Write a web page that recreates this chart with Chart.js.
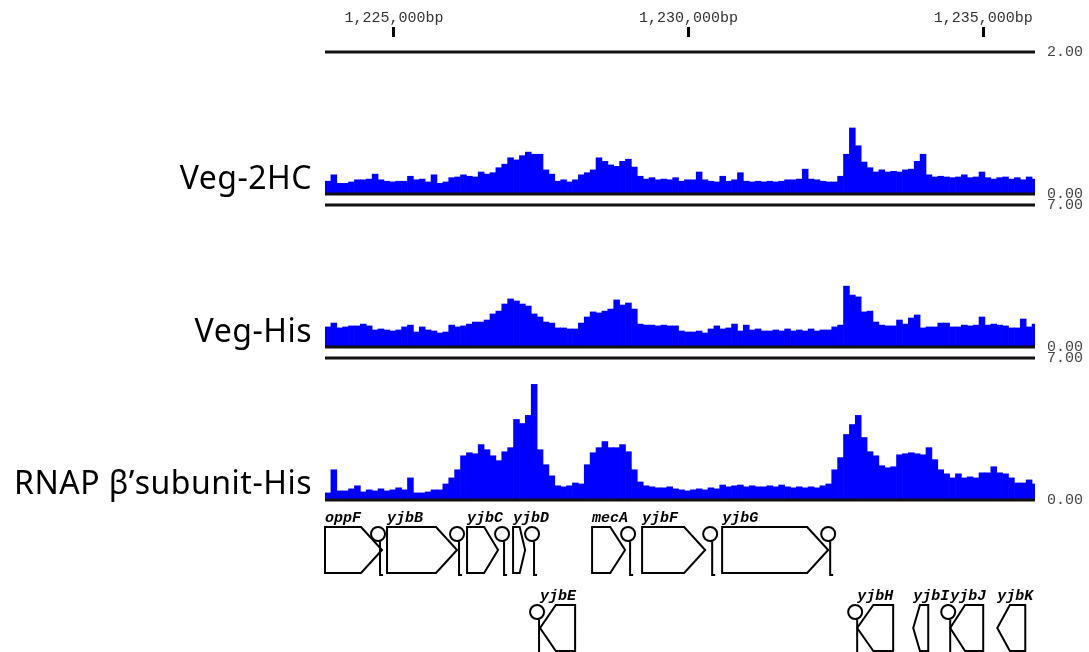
<!DOCTYPE html>
<html>
<head>
<meta charset="utf-8">
<script src="https://cdn.jsdelivr.net/npm/chart.js@4.4.1/dist/chart.umd.min.js"></script>
<style>
  body { margin:0; background:#fff; width:1089px; height:652px; overflow:hidden; position:relative; }
  .box { position:absolute; left:0; width:1089px; }
  .lab { position:absolute; right:777px; font-family:'Comic Sans MS','Noto Sans',sans-serif; font-size:32px; line-height:32px; letter-spacing:0.5px; color:#000; white-space:nowrap; }
</style>
</head>
<body>
<div class="box" style="top:0;height:52px"><canvas id="ruler"></canvas></div>
<div class="box" style="top:38px;height:170px"><canvas id="t1"></canvas></div>
<div class="box" style="top:191px;height:170px"><canvas id="t2"></canvas></div>
<div class="box" style="top:344px;height:170px"><canvas id="t3"></canvas></div>
<div class="box" style="top:500px;height:152px"><canvas id="genes"></canvas></div>
<div class="lab" style="top:161px">Veg-2HC</div>
<div class="lab" style="top:314px">Veg-His</div>
<div class="lab" style="top:466px">RNAP β’subunit-His</div>
<script>
// view window (bp) and 100 bp bins
var viewMin = 1223830, viewMax = 1235880;
var binStart = 1223830, binSize = 100;
var rulerTicks = [1225000, 1230000, 1235000];

// read-depth per 100 bp bin
var veg2hc = [
  0.18,0.27,0.15,0.15,0.17,0.20,0.20,0.21,0.28,0.20,
  0.18,0.17,0.18,0.18,0.25,0.20,0.21,0.17,0.27,0.15,
  0.17,0.23,0.24,0.27,0.25,0.24,0.31,0.28,0.30,0.37,
  0.42,0.51,0.48,0.54,0.59,0.56,0.56,0.34,0.28,0.18,
  0.20,0.17,0.20,0.27,0.30,0.34,0.51,0.46,0.41,0.39,
  0.46,0.49,0.38,0.25,0.21,0.23,0.20,0.21,0.20,0.23,
  0.18,0.20,0.20,0.31,0.20,0.18,0.17,0.25,0.18,0.20,
  0.30,0.18,0.17,0.18,0.17,0.18,0.17,0.18,0.20,0.20,
  0.21,0.35,0.21,0.20,0.18,0.17,0.17,0.25,0.56,0.93,
  0.68,0.45,0.37,0.31,0.34,0.31,0.32,0.31,0.34,0.35,
  0.46,0.56,0.27,0.24,0.25,0.24,0.23,0.24,0.27,0.23,
  0.24,0.31,0.23,0.21,0.23,0.24,0.21,0.23,0.20,0.24,
  0.21
];
var vegHis = [
  0.99,1.18,0.94,0.99,1.04,1.04,1.13,1.04,0.84,0.89,
  0.84,0.79,0.84,0.99,1.08,0.74,0.99,0.84,0.79,0.69,
  0.74,1.08,0.99,1.04,1.13,1.23,1.23,1.33,1.63,1.77,
  2.12,2.37,2.27,2.12,2.02,1.63,1.48,1.23,1.18,0.94,
  0.94,0.89,0.89,1.18,1.48,1.73,1.68,1.77,1.87,2.32,
  2.07,2.17,1.87,1.13,1.08,1.08,1.04,1.08,1.04,1.04,
  0.79,0.74,0.74,0.79,0.69,0.89,1.04,0.89,0.94,1.13,
  0.79,1.08,0.84,0.89,0.79,0.79,0.84,0.79,0.89,0.79,
  0.84,0.79,0.89,0.79,0.84,0.84,0.99,1.08,3.00,2.56,
  2.47,1.73,1.77,1.23,1.08,1.04,1.04,1.33,1.13,1.43,
  1.58,0.94,0.99,0.99,1.18,1.18,0.99,0.99,1.08,1.04,
  1.08,1.48,1.08,1.13,1.08,1.04,0.94,0.94,1.38,0.99,
  1.13
];
var rnap = [
  0.35,1.49,0.45,0.45,0.55,0.70,0.40,0.50,0.45,0.55,
  0.45,0.50,0.60,0.50,1.09,0.35,0.35,0.40,0.50,0.50,
  0.79,1.09,1.49,2.18,2.33,2.28,2.73,2.48,2.18,1.94,
  2.38,2.58,3.97,3.77,4.17,5.70,2.48,1.74,1.19,0.70,
  0.65,0.70,0.84,0.79,1.74,2.33,2.58,2.88,2.58,2.58,
  2.73,2.38,1.49,0.89,0.70,0.65,0.60,0.60,0.65,0.55,
  0.50,0.45,0.50,0.55,0.50,0.60,0.55,0.74,0.65,0.70,
  0.74,0.65,0.70,0.65,0.65,0.70,0.65,0.74,0.65,0.60,
  0.65,0.60,0.65,0.60,0.70,0.79,1.49,2.09,3.23,3.72,
  4.17,3.08,2.38,2.18,1.69,1.59,1.64,2.23,2.28,2.33,
  2.28,2.23,2.58,1.99,1.49,1.29,1.09,1.29,1.09,1.14,
  1.09,1.34,1.34,1.64,1.34,1.29,1.09,0.84,0.84,0.99,
  0.79
];

// gene annotation
var geneNames  = ['oppF','yjbB','yjbC','yjbD','mecA','yjbF','yjbG','yjbE','yjbH','yjbI','yjbJ','yjbK'];
var geneStart  = [1223830,1224883,1226241,1227022,1228363,1229212,1230570,1227480,1232862,1233813,1234441,1235240];
var geneEnd    = [1224798,1226071,1226767,1227226,1228923,1230282,1232370,1228075,1233473,1234068,1235001,1235715];
var geneStrand = [1,1,1,1,1,1,1,-1,-1,-1,-1,-1];
var termPos    = [1224730,1226071,1226835,1227344,1228974,1230367,1232370,1227429,1232828,1234407];
var termStrand = [1,1,1,1,1,1,1,-1,-1,-1];

var mono = "'Liberation Mono','Courier New',monospace";

var framePlugin = {
  id: 'frame',
  afterDatasetsDraw: function(chart) {
    var ctx = chart.ctx, a = chart.chartArea;
    ctx.save();
    ctx.strokeStyle = '#111';
    ctx.lineWidth = 3;
    ctx.beginPath();
    ctx.moveTo(a.left, a.top); ctx.lineTo(a.right, a.top);
    ctx.moveTo(a.left, a.bottom); ctx.lineTo(a.right, a.bottom);
    ctx.stroke();
    ctx.restore();
  }
};

function trackChart(id, values, maxVal) {
  return new Chart(document.getElementById(id), {
    type: 'bar',
    data: {
      datasets: [{
        data: values.map(function(v, i) { return {x: binStart + binSize * (i + 0.5), y: v}; }),
        backgroundColor: '#0000ff',
        borderWidth: 0,
        barPercentage: 1,
        categoryPercentage: 1
      }]
    },
    options: {
      responsive: true,
      maintainAspectRatio: false,
      animation: false,
      layout: {padding: {left: 325, top: 14, bottom: 14, right: 0}},
      plugins: {legend: {display: false}, tooltip: {enabled: false}},
      scales: {
        x: {type: 'linear', min: viewMin, max: viewMax, display: false, offset: false},
        y: {
          position: 'right', min: 0, max: maxVal,
          afterBuildTicks: function(s) { s.ticks = [{value: 0}, {value: maxVal}]; },
          afterFit: function(s) { s.width = 54; s.paddingTop = 0; s.paddingBottom = 0; },
          grid: {display: false, drawTicks: false},
          border: {display: false},
          ticks: {padding: 12, font: {family: mono, size: 15}, color: '#444',
                  callback: function(v) { return v.toFixed(2); }}
        }
      }
    },
    plugins: [framePlugin]
  });
}

// ruler
new Chart(document.getElementById('ruler'), {
  type: 'line',
  data: {datasets: []},
  options: {
    responsive: true, maintainAspectRatio: false, animation: false,
    layout: {padding: {left: 325, right: 54, top: 0, bottom: 0}},
    plugins: {legend: {display: false}, tooltip: {enabled: false}},
    scales: {
      x: {
        type: 'linear', position: 'top', min: viewMin, max: viewMax,
        afterBuildTicks: function(s) { s.ticks = rulerTicks.map(function(v) { return {value: v}; }); },
        afterFit: function(s) { s.height = 37; s.paddingLeft = 0; s.paddingRight = 0; },
        grid: {drawOnChartArea: false, drawTicks: true, tickLength: 10, tickWidth: 3, tickColor: '#000'},
        border: {display: false},
        ticks: {padding: 0, maxRotation: 0, autoSkip: false, font: {family: mono, size: 15}, color: '#333',
                callback: function(v) { return v.toLocaleString('en-US') + 'bp'; }}
      },
      y: {display: false}
    }
  }
});

trackChart('t1', veg2hc, 2);
trackChart('t2', vegHis, 7);
trackChart('t3', rnap, 7);

// genes
var genePlugin = {
  id: 'genes',
  afterDraw: function(chart) {
    var ctx = chart.ctx, xs = chart.scales.x;
    var rowTop = [27, 105], rowH = 46;
    ctx.save();
    ctx.lineWidth = 2;
    ctx.strokeStyle = '#000';
    ctx.fillStyle = '#000';
    ctx.font = 'italic bold 15px ' + mono;
    geneNames.forEach(function(name, i) {
      var fwd = geneStrand[i] > 0;
      var top = rowTop[fwd ? 0 : 1], bot = top + rowH, mid = top + rowH / 2;
      var x1 = xs.getPixelForValue(geneStart[i]), x2 = xs.getPixelForValue(geneEnd[i]);
      var head = Math.min(21, (x2 - x1) * 0.45);
      ctx.beginPath();
      if (fwd) {
        ctx.moveTo(x1, top); ctx.lineTo(x2 - head, top); ctx.lineTo(x2, mid);
        ctx.lineTo(x2 - head, bot); ctx.lineTo(x1, bot);
      } else {
        ctx.moveTo(x2, top); ctx.lineTo(x1 + head, top); ctx.lineTo(x1, mid);
        ctx.lineTo(x1 + head, bot); ctx.lineTo(x2, bot);
      }
      ctx.closePath();
      ctx.stroke();
      ctx.fillText(name, x1, top - 5);
    });
    termPos.forEach(function(p, i) {
      var top = rowTop[termStrand[i] > 0 ? 0 : 1], bot = top + rowH;
      var x = xs.getPixelForValue(p), cy = top + 7, r = 7;
      ctx.beginPath();
      ctx.arc(x, cy, r, 0, Math.PI * 2);
      ctx.moveTo(x + 2, cy + r);
      ctx.lineTo(x + 2, bot + 2);
      ctx.lineTo(x + 5, bot + 2);
      ctx.stroke();
    });
    ctx.restore();
  }
};

new Chart(document.getElementById('genes'), {
  type: 'line',
  data: {datasets: []},
  options: {
    responsive: true, maintainAspectRatio: false, animation: false,
    layout: {padding: {left: 325, right: 54, top: 0, bottom: 0}},
    plugins: {legend: {display: false}, tooltip: {enabled: false}},
    scales: {
      x: {type: 'linear', min: viewMin, max: viewMax, display: false},
      y: {display: false}
    }
  },
  plugins: [genePlugin]
});
</script>
</body>
</html>
